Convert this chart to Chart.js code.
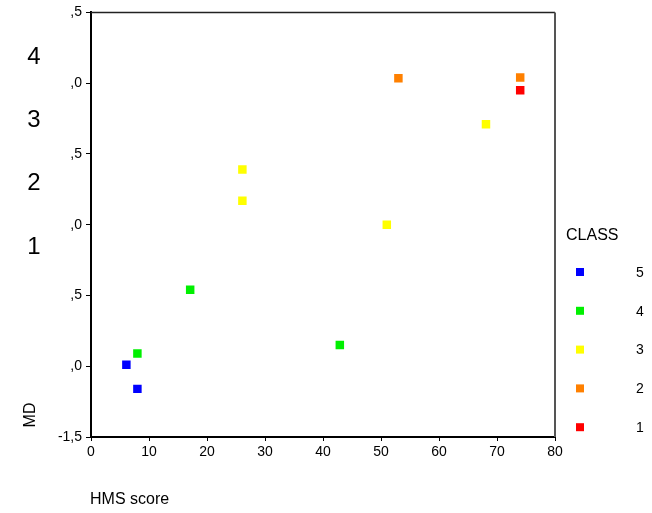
<!DOCTYPE html>
<html>
<head>
<meta charset="utf-8">
<script src="https://cdn.jsdelivr.net/npm/chart.js@4.4.0/dist/chart.umd.min.js"></script>
<style>
  html, body { margin: 0; padding: 0; background: #fff; }
  #wrap { width: 652px; height: 513px; position: relative; }
</style>
</head>
<body>
<div id="wrap"><canvas id="scatterChart"></canvas></div>
<script>
// data
const classNames = ['5', '4', '3', '2', '1'];
const classColors = ['#0000ff', '#00f000', '#ffff00', '#ff8000', '#ff0000'];

const hmsClass5 = [6.1, 8.0];
const mdClass5 = [-0.99, -1.16];
const hmsClass4 = [8.0, 17.1, 42.9];
const mdClass4 = [-0.91, -0.46, -0.85];
const hmsClass3 = [26.1, 26.1, 51.0, 68.1];
const mdClass3 = [0.39, 0.17, 0.0, 0.71];
const hmsClass2 = [53.0, 74.0];
const mdClass2 = [1.035, 1.04];
const hmsClass1 = [74.0];
const mdClass1 = [0.95];

const xTicks = [0, 10, 20, 30, 40, 50, 60, 70, 80];
const yTickValues = [1.5, 1.0, 0.5, 0.0, -0.5, -1.0, -1.5];
const yTickLabels = [',5', ',0', ',5', ',0', ',5', ',0', '-1,5'];
const strayDigits = ['4', '3', '2', '1'];

const xs = [hmsClass5, hmsClass4, hmsClass3, hmsClass2, hmsClass1];
const ys = [mdClass5, mdClass4, mdClass3, mdClass2, mdClass1];

const datasets = classNames.map(function (name, i) {
  return {
    label: name,
    data: xs[i].map(function (x, j) { return { x: x, y: ys[i][j] }; }),
    pointStyle: 'rect',
    pointRadius: 6,
    pointHoverRadius: 6,
    backgroundColor: classColors[i],
    borderColor: classColors[i],
    borderWidth: 0
  };
});

const FONT = 'Liberation Sans, Arial, sans-serif';

// frame, titles, legend and the odd leftover labels
const extras = {
  id: 'extras',
  afterDraw: function (chart) {
    const ctx = chart.ctx;
    const a = chart.chartArea;
    ctx.save();

    // top and right frame lines
    ctx.strokeStyle = '#222';
    ctx.lineWidth = 1.5;
    ctx.beginPath();
    ctx.moveTo(a.left, a.top);
    ctx.lineTo(a.right, a.top);
    ctx.stroke();
    ctx.strokeStyle = '#555';
    ctx.lineWidth = 2;
    ctx.beginPath();
    ctx.moveTo(a.right, a.top);
    ctx.lineTo(a.right, a.bottom);
    ctx.stroke();

    ctx.fillStyle = '#000';
    ctx.textBaseline = 'middle';

    // axis titles
    ctx.font = '16px ' + FONT;
    ctx.textAlign = 'left';
    ctx.fillText('HMS score', 90, 500);
    ctx.save();
    ctx.translate(31, 415);
    ctx.rotate(-Math.PI / 2);
    ctx.textAlign = 'center';
    ctx.fillText('MD', 0, 0);
    ctx.restore();

    // stray big digits on the left
    ctx.font = '24px ' + FONT;
    ctx.textAlign = 'center';
    strayDigits.forEach(function (d, i) {
      ctx.fillText(d, 34, 57 + i * 63.3);
    });

    // legend
    ctx.font = '16px ' + FONT;
    ctx.textAlign = 'left';
    ctx.fillText('CLASS', 566, 236);
    ctx.font = '14px ' + FONT;
    chart.data.datasets.forEach(function (ds, i) {
      const y = 272 + i * 38.8;
      ctx.fillStyle = ds.backgroundColor;
      ctx.fillRect(576, y - 4, 8, 8);
      ctx.fillStyle = '#000';
      ctx.fillText(ds.label, 636, y + 1);
    });
    ctx.restore();
  }
};

new Chart(document.getElementById('scatterChart'), {
  type: 'scatter',
  data: { datasets: datasets },
  options: {
    responsive: true,
    maintainAspectRatio: false,
    animation: false,
    layout: { padding: { top: 10, right: 97, left: 0, bottom: 0 } },
    plugins: {
      legend: { display: false },
      tooltip: { enabled: false }
    },
    scales: {
      x: {
        type: 'linear',
        min: 0,
        max: 80,
        afterBuildTicks: function (scale) {
          scale.ticks = xTicks.map(function (v) { return { value: v }; });
        },
        afterFit: function (scale) { scale.height = 76; },
        grid: { drawOnChartArea: false, tickLength: 4, color: '#000', tickColor: '#000' },
        border: { color: '#000', width: 2 },
        ticks: { color: '#000', font: { family: FONT, size: 14 }, padding: 3, maxRotation: 0 }
      },
      y: {
        type: 'linear',
        min: -1.5,
        max: 1.5,
        afterBuildTicks: function (scale) {
          scale.ticks = yTickValues.map(function (v) { return { value: v }; });
        },
        afterFit: function (scale) { scale.width = 91; },
        grid: { drawOnChartArea: false, tickLength: 5, color: '#000', tickColor: '#000' },
        border: { color: '#000', width: 2 },
        ticks: {
          color: '#000',
          font: { family: FONT, size: 14 },
          padding: 4,
          callback: function (value) {
            const i = yTickValues.findIndex(function (v) { return Math.abs(v - value) < 1e-6; });
            return i >= 0 ? yTickLabels[i] : '';
          }
        }
      }
    }
  },
  plugins: [extras]
});
</script>
</body>
</html>
